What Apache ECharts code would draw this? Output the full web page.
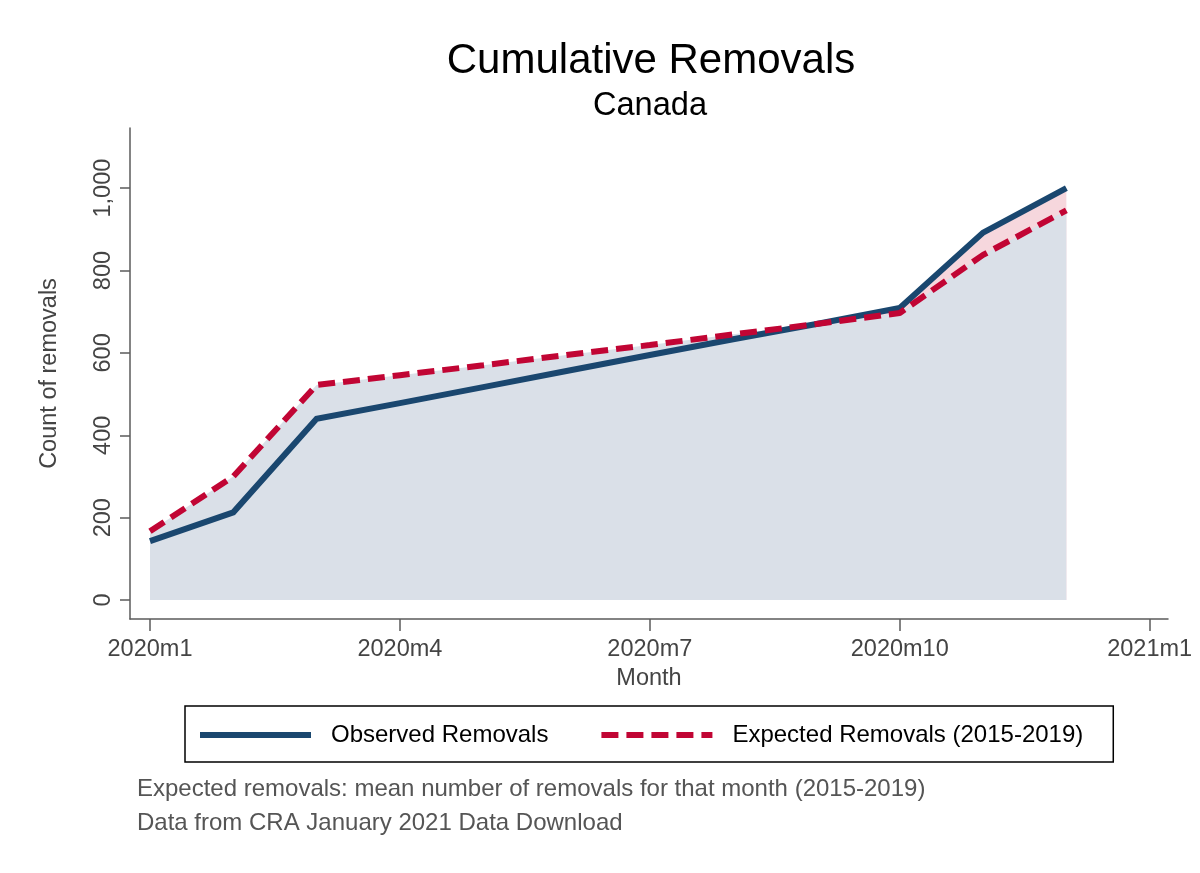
<!DOCTYPE html>
<html>
<head>
<meta charset="utf-8">
<script src="https://cdn.jsdelivr.net/npm/echarts@6/dist/echarts.min.js"></script>
<style>
html,body{margin:0;padding:0;background:#fff;}
#chart{width:1200px;height:873px;}
</style>
</head>
<body>
<div id="chart"></div>
<script>
// Months: index 0 = 2020m1 ... 11 = 2020m12
var months = ['2020m1','2020m2','2020m3','2020m4','2020m5','2020m6','2020m7','2020m8','2020m9','2020m10','2020m11','2020m12'];
var observed = [143, 213, 440, 478, 517, 556, 595, 633, 670, 709, 892, 1000];
var expected = [167, 300, 522, 546, 570, 595, 619, 645, 670, 697, 838, 946];
var xTickValues = [0, 3, 6, 9, 12];
var xTickLabels = ['2020m1', '2020m4', '2020m7', '2020m10', '2021m1'];
var yTickValues = [0, 200, 400, 600, 800, 1000];

function pairs(arr) { return arr.map(function (v, i) { return [i, v]; }); }

var FONT = '"Liberation Sans", Arial, sans-serif';
var chart = echarts.init(document.getElementById('chart'), null, {renderer: 'canvas'});
var axisColor = '#5b5b5b';
var option = {
  backgroundColor: '#ffffff',
  animation: false,
  textStyle: {fontFamily: FONT},
  title: [
    {text: 'Cumulative Removals', left: 646, top: 35, textAlign: 'center',
     textStyle: {fontFamily: FONT, fontSize: 42, fontWeight: 'normal', color: '#000'}},
    {text: 'Canada', left: 645, top: 85, textAlign: 'center',
     textStyle: {fontFamily: FONT, fontSize: 32.6, fontWeight: 'normal', color: '#000'}}
  ],
  grid: {left: 130, right: 32, top: 128, bottom: 254, containLabel: false},
  xAxis: {
    type: 'value', min: -0.24, max: 12.22,
    name: 'Month', nameLocation: 'middle', nameGap: 46,
    nameTextStyle: {fontFamily: FONT, fontSize: 23.5, color: '#444'},
    axisLine: {show: true, onZero: false, lineStyle: {color: axisColor, width: 1.5}},
    axisTick: {show: true, length: 12, customValues: xTickValues, lineStyle: {color: axisColor, width: 1.5}},
    axisLabel: {show: true, margin: 19, customValues: xTickValues, fontSize: 23.5, color: '#444',
      formatter: function (v) { var i = xTickValues.indexOf(v); return i >= 0 ? xTickLabels[i] : ''; }},
    splitLine: {show: false}
  },
  yAxis: {
    type: 'value', min: -46, max: 1146,
    name: 'Count of removals', nameLocation: 'middle', nameGap: 68, nameRotate: 90,
    nameTextStyle: {fontFamily: FONT, fontSize: 23.5, color: '#444'},
    axisLine: {show: true, onZero: false, lineStyle: {color: axisColor, width: 1.5}},
    axisTick: {show: true, length: 10, customValues: yTickValues, lineStyle: {color: axisColor, width: 1.5}},
    axisLabel: {show: true, margin: 14, rotate: 90, customValues: yTickValues, fontSize: 23.5, color: '#444',
      formatter: function (v) { return Number(v).toLocaleString('en-US'); }},
    splitLine: {show: false}
  },
  legend: {
    data: ['Observed Removals', 'Expected Removals (2015-2019)'],
    left: 185, top: 706,
    padding: [17, 30, 15, 12],
    itemGap: 50, itemWidth: 111, itemHeight: 22,
    borderColor: '#000', borderWidth: 1.5, borderRadius: 0,
    lineStyle: {width: 6},
    itemStyle: {opacity: 0},
    textStyle: {fontFamily: FONT, fontSize: 24, color: '#000', padding: [0, 0, 0, 15]},
    selectedMode: false
  },
  graphic: [
    {type: 'text', left: 137, top: 777, style: {text: 'Expected removals: mean number of removals for that month (2015-2019)', font: '24px ' + FONT, fill: '#555'}},
    {type: 'text', left: 137, top: 811, style: {text: 'Data from CRA January 2021 Data Download', font: '24px ' + FONT, fill: '#555'}}
  ],
  series: [
    {name: 'obsArea', type: 'line', data: pairs(observed), symbol: 'none', z: 1,
     lineStyle: {width: 0}, areaStyle: {color: '#f6d7dd', opacity: 1}, silent: true},
    {name: 'expArea', type: 'line', data: pairs(expected), symbol: 'none', z: 2,
     lineStyle: {width: 0}, areaStyle: {color: '#dae0e8', opacity: 1}, silent: true},
    {name: 'Observed Removals', type: 'line', data: pairs(observed), symbol: 'none', z: 3,
     lineStyle: {width: 6, color: '#1a476f', join: 'miter'}, itemStyle: {color: '#1a476f'}},
    {name: 'Expected Removals (2015-2019)', type: 'line', data: pairs(expected), symbol: 'none', z: 4,
     lineStyle: {width: 6, color: '#c10534', type: [17, 8], cap: 'butt'}, itemStyle: {color: '#c10534'}}
  ]
};
chart.setOption(option);
</script>
</body>
</html>
